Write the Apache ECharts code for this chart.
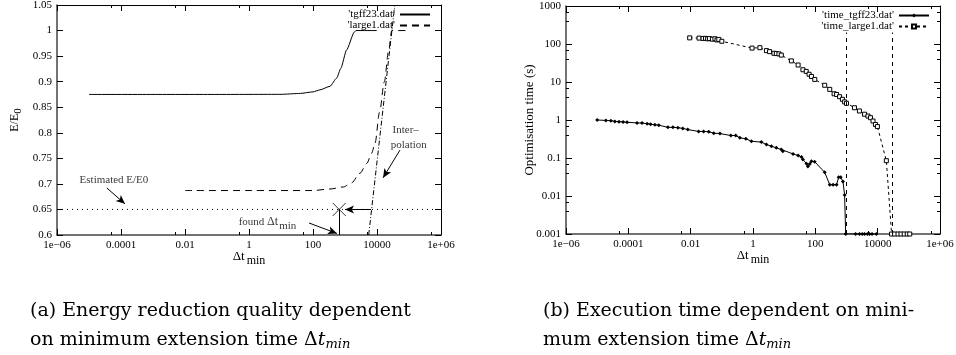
<!DOCTYPE html>
<html>
<head>
<meta charset="utf-8">
<script src="https://cdn.jsdelivr.net/npm/echarts@6/dist/echarts.min.js"></script>
<style>
html, body { margin: 0; padding: 0; background: #fff; }
#main { width: 956px; height: 355px; }
</style>
</head>
<body>
<div id="main"></div>
<script>
// ---- (a) energy reduction quality E/E0 vs dt_min ----
var tgff23Quality = [[1e-5, 0.875], [1e-3, 0.875], [0.1, 0.875], [10, 0.8752], [40, 0.877], [100, 0.88],
  [166, 0.884], [340, 0.891], [550, 0.907], [740, 0.926], [1120, 0.962], [1950, 0.997], [2200, 1.0], [9800, 1.0]];
var large1Quality = [[0.01, 0.687], [1, 0.687], [100, 0.687], [340, 0.69], [890, 0.694], [1600, 0.702],
  [2950, 0.721], [4800, 0.74], [6800, 0.76], [8700, 0.78], [12000, 0.84], [17000, 0.9], [23000, 0.96],
  [29000, 1.0], [100000, 1.0]];
var interpLine = [[5500, 0.6], [36000, 1.05]];
var estimatedE = 0.65;
var foundDt = 660;

// ---- (b) optimisation time (s) vs dt_min ----
var tgff23Time = [[1e-5, 1.0], [1.9e-5, 0.975], [2.75e-5, 0.96], [3.7e-5, 0.92], [5e-5, 0.9], [6.8e-5, 0.89],
  [9.1e-5, 0.87], [1.9e-4, 0.84], [2.75e-4, 0.83], [4e-4, 0.8], [5.2e-4, 0.77], [7.1e-4, 0.75], [9.5e-4, 0.73],
  [1.86e-3, 0.64], [2.7e-3, 0.64], [3.9e-3, 0.63], [5.6e-3, 0.6], [8.1e-3, 0.56], [0.018, 0.5], [0.026, 0.5],
  [0.038, 0.49], [0.055, 0.45], [0.087, 0.44], [0.195, 0.39], [0.28, 0.39], [0.38, 0.34], [0.59, 0.32],
  [0.89, 0.276], [1.86, 0.262], [2.7, 0.226], [3.9, 0.204], [5.6, 0.185], [8.1, 0.167], [9.1, 0.15],
  [19.3, 0.128], [28, 0.116], [36, 0.107], [40, 0.091], [52, 0.071], [58, 0.06], [66, 0.07], [75, 0.082],
  [95, 0.08], [200, 0.042], [290, 0.0198], [370, 0.0198], [480, 0.0198], [560, 0.031], [650, 0.031],
  [770, 0.024], [870, 0.0107], [940, 0.001], [1950, 0.001], [2600, 0.001], [3200, 0.001], [3800, 0.001],
  [4700, 0.001], [5500, 0.001], [6600, 0.001], [9100, 0.001]];
var large1Time = [[0.0093, 145], [0.0186, 143], [0.025, 140], [0.03, 141], [0.035, 137], [0.04, 139],
  [0.05, 134], [0.06, 137], [0.07, 128], [0.08, 132], [0.1, 118], [0.93, 78], [1.66, 80], [2.7, 67],
  [3.4, 63], [4.7, 57], [5.6, 56], [6.8, 55], [8.1, 51], [17, 36], [28, 28], [40, 21], [51, 19], [63, 16],
  [75, 14], [96, 11.7], [200, 8.2], [290, 6.4], [400, 4.9], [480, 4.7], [600, 4.1], [740, 3.5], [870, 3.0],
  [1000, 2.75], [1800, 2.1], [2600, 1.73], [3800, 1.42], [4900, 1.27], [5900, 1.15], [7100, 0.94],
  [8500, 0.76], [9800, 0.67], [19000, 0.085], [28000, 0.001], [35000, 0.001], [45000, 0.001],
  [56000, 0.001], [71000, 0.001], [89000, 0.001], [107000, 0.001]];
var doneMarks = [1000, 29000];

var FONT = 'Liberation Serif';
var chart = echarts.init(document.getElementById('main'), null, { renderer: 'canvas' });

function logLabel(v) {
  var e = Math.round(Math.log10(v));
  if (e <= -5) return '1e\u22120' + (-e);
  if (e >= 6) return '1e+0' + e;
  if (e < 0) return Math.pow(10, e).toFixed(-e);
  return String(Math.pow(10, e));
}

// one axis of the gnuplot style box (ticks inside, mirrored)
function xAx(grid, pos, labels) {
  return {
    type: 'log', gridIndex: grid, position: pos, min: 1e-6, max: 1e6, interval: 2, logBase: 10,
    axisLine: { show: true, lineStyle: { color: pos == 'bottom' ? '#444' : '#000', width: pos == 'bottom' ? 1.5 : 1 } },
    axisTick: { show: true, inside: true, length: 6, lineStyle: { color: '#000' } },
    minorTick: { show: true, splitNumber: 2, length: 3, lineStyle: { color: '#000' } },
    axisLabel: { show: labels, color: '#000', fontFamily: FONT, fontSize: 11, margin: 5, formatter: logLabel },
    splitLine: { show: false }, minorSplitLine: { show: false },
    name: labels ? '{d|\u0394t}{s|min}' : '', nameLocation: 'middle', nameGap: 12, nameMoveOverlap: false,
    nameTextStyle: { color: '#000', rich: {
      d: { fontFamily: FONT, fontSize: 13, color: '#000' },
      s: { fontFamily: FONT, fontSize: 12, color: '#000', padding: [8, 0, 0, 2] } } }
  };
}

function legendAt(name, right, top, hideSymbol) {
  var l = { data: [name], right: right, top: top, align: 'right', itemWidth: 30, itemHeight: 5, padding: 0,
    textStyle: { fontFamily: FONT, fontSize: 11, color: '#000' } };
  if (hideSymbol) l.itemStyle = { opacity: 0 };
  return l;
}

var option = {
  animation: false,
  backgroundColor: '#fff',
  grid: [
    { left: 57, top: 5, width: 384, height: 230, show: false, outerBoundsMode: 'none' },
    { left: 566, top: 6, width: 374, height: 228, show: false, outerBoundsMode: 'none' }
  ],
  xAxis: [xAx(0, 'bottom', true), xAx(0, 'top', false), xAx(1, 'bottom', true), xAx(1, 'top', false)],
  yAxis: [
    {
      type: 'value', gridIndex: 0, position: 'left', min: 0.6, max: 1.05, interval: 0.05,
      axisLine: { show: true, lineStyle: { color: '#444', width: 1.5 } },
      axisTick: { show: true, inside: true, length: 6, lineStyle: { color: '#000' } },
      axisLabel: { color: '#000', fontFamily: FONT, fontSize: 11, margin: 5 },
      splitLine: { show: false },
      name: 'E/E{s|0}', nameLocation: 'middle', nameRotate: 90, nameGap: 33, nameMoveOverlap: false,
      nameTextStyle: { color: '#000', fontFamily: FONT, fontSize: 12,
        rich: { s: { fontFamily: FONT, fontSize: 11, color: '#000', padding: [8, 0, 0, 0] } } }
    },
    {
      type: 'value', gridIndex: 0, position: 'right', min: 0.6, max: 1.05, interval: 0.05,
      axisLine: { show: true, lineStyle: { color: '#000', width: 1 } },
      axisTick: { show: true, inside: true, length: 6, lineStyle: { color: '#000' } },
      axisLabel: { show: false }, splitLine: { show: false }
    },
    {
      type: 'log', gridIndex: 1, position: 'left', min: 0.001, max: 1000, interval: 1, logBase: 10,
      axisLine: { show: true, lineStyle: { color: '#444', width: 1.5 } },
      axisTick: { show: true, inside: true, length: 6, lineStyle: { color: '#000' } },
      minorTick: { show: true, splitNumber: 3, length: 3, lineStyle: { color: '#000' } },
      axisLabel: { color: '#000', fontFamily: FONT, fontSize: 11, margin: 5, formatter: logLabel },
      splitLine: { show: false }, minorSplitLine: { show: false },
      name: 'Optimisation time (s)', nameLocation: 'middle', nameRotate: 90, nameGap: 30, nameMoveOverlap: false,
      nameTextStyle: { color: '#000', fontFamily: FONT, fontSize: 13 }
    },
    {
      type: 'log', gridIndex: 1, position: 'right', min: 0.001, max: 1000, interval: 1, logBase: 10,
      axisLine: { show: true, lineStyle: { color: '#000', width: 1 } },
      axisTick: { show: true, inside: true, length: 6, lineStyle: { color: '#000' } },
      minorTick: { show: true, splitNumber: 3, length: 3, lineStyle: { color: '#000' } },
      axisLabel: { show: false }, splitLine: { show: false }, minorSplitLine: { show: false }
    }
  ],
  legend: [
    legendAt("'tgff23.dat'", 525, 9, true),
    legendAt("'large1.dat'", 525, 20, true),
    legendAt("'time_tgff23.dat'", 26, 10, false),
    legendAt("'time_large1.dat'", 26, 21, false)
  ],
  series: [
    {
      name: "'tgff23.dat'", type: 'line', xAxisIndex: 0, yAxisIndex: 0, data: tgff23Quality,
      symbol: 'none', smooth: 0.2, smoothMonotone: 'x', color: '#000',
      lineStyle: { color: '#000', width: 1 }
    },
    {
      name: "'large1.dat'", type: 'line', xAxisIndex: 0, yAxisIndex: 0, data: large1Quality,
      symbol: 'none', smooth: 0.3, smoothMonotone: 'x', color: '#000',
      lineStyle: { color: '#000', width: 1, type: [7, 5] }
    },
    {
      name: 'interpolation', type: 'line', xAxisIndex: 0, yAxisIndex: 0, data: interpLine,
      symbol: 'none', color: '#000', lineStyle: { color: '#000', width: 1, type: [5, 2, 1, 2] }
    },
    {
      name: 'estimated', type: 'line', xAxisIndex: 0, yAxisIndex: 0,
      data: [[1e-6, estimatedE], [1e6, estimatedE]],
      symbol: 'none', color: '#000', lineStyle: { color: '#000', width: 1, type: [1, 4] },
      markLine: {
        silent: true, symbol: ['none', 'arrow'], symbolSize: [6, 9], label: { show: false },
        lineStyle: { color: '#000', width: 1, type: 'solid' },
        data: [
          [{ coord: [3.6e-5, 0.692] }, { coord: [1.33e-4, 0.661] }],
          [{ coord: [52000, 0.766] }, { coord: [15500, 0.712] }],
          [{ coord: [75, 0.6235] }, { coord: [560, 0.603] }],
          [{ coord: [6500, estimatedE] }, { coord: [1000, estimatedE] }],
          [{ coord: [foundDt, estimatedE], symbol: 'none' }, { coord: [foundDt, 0.6], symbol: 'none' }]
        ]
      }
    },
    {
      name: 'found', type: 'scatter', xAxisIndex: 0, yAxisIndex: 0, data: [[foundDt, estimatedE]],
      symbol: 'path://M0,0L10,10M10,0L0,10', symbolSize: 13,
      itemStyle: { color: 'none', borderColor: '#000', borderWidth: 1 }
    },
    {
      name: 'notes', type: 'scatter', xAxisIndex: 0, yAxisIndex: 0, symbolSize: 1, silent: true,
      itemStyle: { color: 'rgba(0,0,0,0)' },
      label: { show: true, position: 'right', distance: 0, formatter: '{b}', color: '#000',
        fontFamily: FONT, fontSize: 11,
        rich: { s: { fontFamily: FONT, fontSize: 11, color: '#000', padding: [8, 0, 0, 1] },
          d: { fontFamily: FONT, fontSize: 12, color: '#000' } } },
      data: [
        { name: 'Estimated E/E0', value: [4.9e-6, 0.708] },
        { name: 'Inter\u2013', value: [29500, 0.805] },
        { name: 'polation', value: [26000, 0.776] },
        { name: 'found {d|\u0394t}{s|min}', value: [0.46, 0.626] }
      ]
    },
    {
      name: "'time_tgff23.dat'", type: 'line', xAxisIndex: 2, yAxisIndex: 2, data: tgff23Time,
      symbol: 'diamond', symbolSize: 4, color: '#000', itemStyle: { color: '#000' },
      lineStyle: { color: '#000', width: 1 }
    },
    {
      name: "'time_large1.dat'", type: 'line', xAxisIndex: 2, yAxisIndex: 2, data: large1Time,
      symbol: 'rect', symbolSize: 4, color: '#000',
      itemStyle: { color: '#fff', borderColor: '#000', borderWidth: 1 },
      lineStyle: { color: '#000', width: 1, type: [3, 3] },
      markLine: {
        silent: true, symbol: 'none', label: { show: false },
        lineStyle: { color: '#000', width: 1, type: [4, 4] },
        data: doneMarks.map(function (m) { return [{ coord: [m, 0.001] }, { coord: [m, 200] }]; })
      }
    }
  ],
  graphic: [
    {
      type: 'text', left: 30, top: 297,
      style: {
        text: '(a) Energy reduction quality dependent\non minimum extension time \u0394{i|t}{s|min}',
        font: '19px "DejaVu Serif"', fill: '#000', lineHeight: 29,
        rich: { i: { font: 'italic 19px "DejaVu Serif"', fill: '#000' },
          s: { font: 'italic 13px "DejaVu Serif"', fill: '#000', padding: [8, 0, 0, 0] } }
      }
    },
    {
      type: 'text', left: 543, top: 297,
      style: {
        text: '(b) Execution time dependent on mini-\nmum extension time \u0394{i|t}{s|min}',
        font: '19px "DejaVu Serif"', fill: '#000', lineHeight: 29,
        rich: { i: { font: 'italic 19px "DejaVu Serif"', fill: '#000' },
          s: { font: 'italic 13px "DejaVu Serif"', fill: '#000', padding: [8, 0, 0, 0] } }
      }
    }
  ]
};
chart.setOption(option);
</script>
</body>
</html>
